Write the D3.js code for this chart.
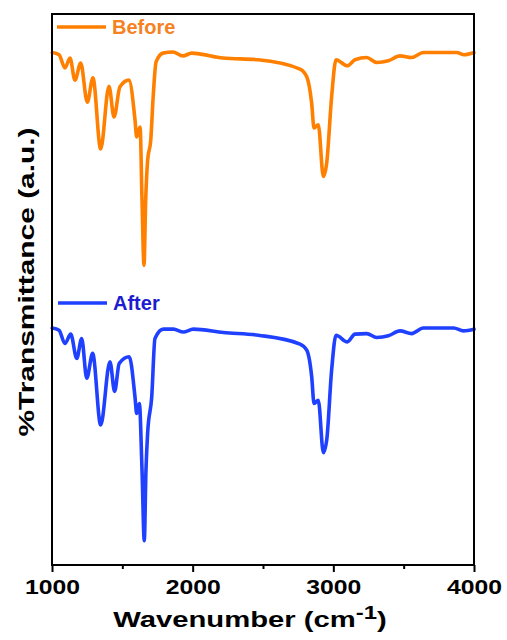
<!DOCTYPE html>
<html>
<head>
<meta charset="utf-8">
<script src="https://cdn.jsdelivr.net/npm/d3@7"></script>
<style>
  body { margin: 0; background: #fff; }
  svg text { font-family: "Liberation Sans", Arial, sans-serif; font-weight: bold; }
</style>
</head>
<body>
<script>
// FTIR spectra (transmittance in a.u., 0-100)
var seriesNames = ["Before", "After"];
var beforeWn = [1002,1050,1092,1128,1163,1204,1251,1291,1346,1405,1441,1483,1547,1590,1602,1626,1640,1654,1666,1680,
                1702,1720,1740,1789,1860,1931,1993,2216,2464,2763,2811,2846,2863,2893,2929,2953,2988,3019,3099,3154,
                3237,3308,3391,3474,3557,3640,3877,3929,4000];
var beforeT  = [93.0,92.6,90.2,92.0,88.0,91.1,84.0,88.4,75.5,86.9,81.3,86.8,88.0,80.8,77.7,79.5,66.2,54.4,66.2,73.5,
                77.1,85.3,91.3,92.9,93.1,92.4,92.9,92.0,91.7,90.0,88.6,83.8,79.3,79.9,70.5,73.0,85.0,91.7,90.6,91.7,
                92.1,91.2,91.5,92.4,92.1,93.0,93.0,92.6,93.0];
var afterWn  = [1002,1050,1092,1133,1176,1211,1247,1289,1346,1412,1445,1478,1549,1590,1602,1621,1640,1656,1668,1680,
                1709,1732,1792,1863,1934,2005,2218,2467,2763,2811,2846,2863,2893,2929,2953,2988,3019,3099,3154,3237,
                3308,3391,3474,3557,3640,3856,3925,4000];
var afterT   = [43.0,42.6,40.2,41.9,37.5,41.1,33.9,38.4,25.4,36.9,31.5,36.6,37.8,30.5,27.5,29.3,17.2,4.4,17.2,24.0,
                30.5,41.1,42.8,42.8,42.3,42.8,42.2,41.7,40.1,39.0,34.2,29.3,29.9,20.4,22.7,35.4,41.7,40.5,41.9,42.0,
                41.3,41.6,42.5,42.0,43.0,43.0,42.5,42.8];
var majorTicks = [1000, 2000, 3000, 4000];
var minorTicks = [1500, 2500, 3500];

var colors = {Before: "#ff8000", After: "#2040ff"};
var textColors = {Before: "#f5821f", After: "#1c1cd0"};

var margin = {left: 52, top: 14};
var width = 422;
var height = 551;

var x = d3.scaleLinear().domain([1000, 4000]).range([0, width]);
var y = d3.scaleLinear().domain([0, 100]).range([height, 0]);

var svg = d3.select("body").append("svg").attr("width", 507).attr("height", 640);
var chartGroup = svg.append("g").attr("transform", "translate(" + margin.left + "," + margin.top + ")");

var series = [
  {name: "Before", pts: beforeWn.map(function(w, i){ return [w, beforeT[i]]; })},
  {name: "After",  pts: afterWn.map(function(w, i){ return [w, afterT[i]]; })}
];

var line = d3.line()
  .x(function(d){ return x(d[0]); })
  .y(function(d){ return y(d[1]); })
  .curve(d3.curveMonotoneX);

chartGroup.selectAll("path.spec")
  .data(series)
  .enter().append("path")
    .attr("class", "spec")
    .attr("d", function(d){ return line(d.pts); })
    .attr("fill", "none")
    .attr("stroke", function(d){ return colors[d.name]; })
    .attr("stroke-width", 3.6)
    .attr("stroke-linejoin", "round")
    .attr("stroke-linecap", "round");

// frame
chartGroup.append("rect")
  .attr("width", width).attr("height", height)
  .attr("fill", "none").attr("stroke", "#000").attr("stroke-width", 2);

// x axis, major + minor ticks
var xAxis = chartGroup.append("g")
  .attr("transform", "translate(0," + height + ")")
  .call(d3.axisBottom(x).tickValues(majorTicks).tickSize(7).tickSizeOuter(0).tickFormat(d3.format("d")));
xAxis.select(".domain").remove();
xAxis.selectAll("line").attr("stroke-width", 2);
xAxis.selectAll("text")
  .attr("y", 29).attr("dy", null)
  .attr("fill", "#000")
  .style("font-size", "19.5px")
  .attr("transform", "scale(1.27,1)");

var xMinor = chartGroup.append("g")
  .attr("transform", "translate(0," + height + ")")
  .call(d3.axisBottom(x).tickValues(minorTicks).tickSize(4).tickSizeOuter(0).tickFormat(""));
xMinor.select(".domain").remove();
xMinor.selectAll("line").attr("stroke-width", 2);

// axis titles
var xt = svg.append("g").attr("transform", "translate(250,627) scale(1.33,1)")
  .append("text").attr("text-anchor", "middle").style("font-size", "22px").attr("fill", "#000");
xt.append("tspan").text("Wavenumber (cm");
xt.append("tspan").attr("dy", -8).style("font-size", "18px").text("-1");
xt.append("tspan").attr("dy", 8).text(")");

svg.append("g").attr("transform", "translate(34,282) rotate(-90) scale(1.36,1)")
  .append("text").attr("text-anchor", "middle").style("font-size", "22px").attr("fill", "#000")
  .text("%Transmittance (a.u.)");

// legends next to each trace
var legendPos = {Before: {x: 57, y: 27}, After: {x: 58, y: 303}};
seriesNames.forEach(function(name){
  var p = legendPos[name];
  svg.append("line")
    .attr("x1", p.x).attr("x2", p.x + 49).attr("y1", p.y).attr("y2", p.y)
    .attr("stroke", colors[name]).attr("stroke-width", 3.6);
  svg.append("text")
    .attr("x", p.x + 55).attr("y", p.y + 7)
    .attr("fill", textColors[name])
    .style("font-size", "20px")
    .text(name);
});
</script>
</body>
</html>
